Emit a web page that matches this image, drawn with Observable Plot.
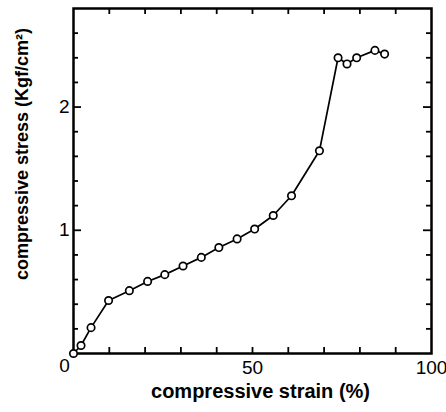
<!DOCTYPE html>
<html><head><meta charset="utf-8">
<script src="https://cdn.jsdelivr.net/npm/d3@7"></script>
<script src="https://cdn.jsdelivr.net/npm/@observablehq/plot@0.6"></script>
<style>
body{margin:0;background:#fff;}
svg{font-family:"Liberation Sans",Arial,sans-serif;}
</style></head>
<body><div id="chart"></div>
<script>
const strain = [0, 2.1, 4.9, 9.8, 15.6, 20.7, 25.5, 30.6, 35.7, 40.6, 45.7, 50.6, 55.8, 60.9, 68.7, 73.9, 76.4, 79.1, 84.2, 86.9];
const stress = [0, 0.065, 0.21, 0.43, 0.51, 0.585, 0.64, 0.71, 0.78, 0.86, 0.93, 1.01, 1.12, 1.28, 1.645, 2.40, 2.35, 2.40, 2.46, 2.43];
const xMinorTicks = [10, 20, 30, 40, 50, 60, 70, 80, 90];
const xTickLabels = [50, 100];
const originLabel = [0];
const yMinorTicks = [0.2, 0.4, 0.6, 0.8, 1.2, 1.4, 1.6, 1.8, 2.2, 2.4, 2.6];
const yMajorTicks = [1, 2];
const xTitle = "compressive strain (%)";
const yTitle = "compressive stress (Kgf/cm²)";

const data = strain.map((s, i) => ({strain: s, stress: stress[i]}));
const fmt = d3.format("d");

const W = 446, H = 412, mL = 73, mR = 15, mT = 8, mB = 59;
const plotW = W - mL - mR, plotH = H - mT - mB;
const xTick = 6, yMinor = 5, yMajor = 8;
const tickStyle = {stroke: "#000", strokeWidth: 1.8};

const chart = Plot.plot({
  width: W, height: H,
  marginLeft: mL, marginRight: mR, marginTop: mT, marginBottom: mB,
  x: {domain: [0, 100]},
  y: {domain: [0, 2.8]},
  style: {fontSize: "19px", color: "#000"},
  marks: [
    // inward ticks on all four sides
    Plot.ruleX(xMinorTicks, {x: d => d, insetTop: plotH - xTick, ...tickStyle}),
    Plot.ruleX(xMinorTicks, {x: d => d, insetBottom: plotH - xTick, ...tickStyle}),
    Plot.ruleY(yMinorTicks, {y: d => d, insetRight: plotW - yMinor, ...tickStyle}),
    Plot.ruleY(yMinorTicks, {y: d => d, insetLeft: plotW - yMinor, ...tickStyle}),
    Plot.ruleY(yMajorTicks, {y: d => d, insetRight: plotW - yMajor, ...tickStyle}),
    Plot.ruleY(yMajorTicks, {y: d => d, insetLeft: plotW - yMajor, ...tickStyle}),
    // tick labels
    Plot.axisX({ticks: xTickLabels, tickSize: 0, tickPadding: 7, tickFormat: fmt, label: null}),
    Plot.axisY({ticks: yMajorTicks, tickSize: 0, tickPadding: 4, tickFormat: fmt, label: null}),
    Plot.text(originLabel, {x: d => d, y: d => d, text: d => String(d), dx: -9, dy: 12, fontSize: 19}),
    // titles
    Plot.text([xTitle], {frameAnchor: "bottom", text: d => d, dx: 8, dy: 44, fontSize: 20, fontWeight: "bold"}),
    Plot.text([yTitle], {frameAnchor: "left", text: d => d, rotate: -90, textAnchor: "middle", dx: -51, dy: -27, fontSize: 18, fontWeight: "bold"}),
    Plot.frame({strokeWidth: 2.5}),
    Plot.line(data, {x: "strain", y: "stress", stroke: "#000", strokeWidth: 1.7}),
    Plot.dot(data, {x: "strain", y: "stress", r: 3.7, fill: "#fff", stroke: "#000", strokeWidth: 1.7})
  ]
});
document.getElementById("chart").appendChild(chart);
</script></body></html>
